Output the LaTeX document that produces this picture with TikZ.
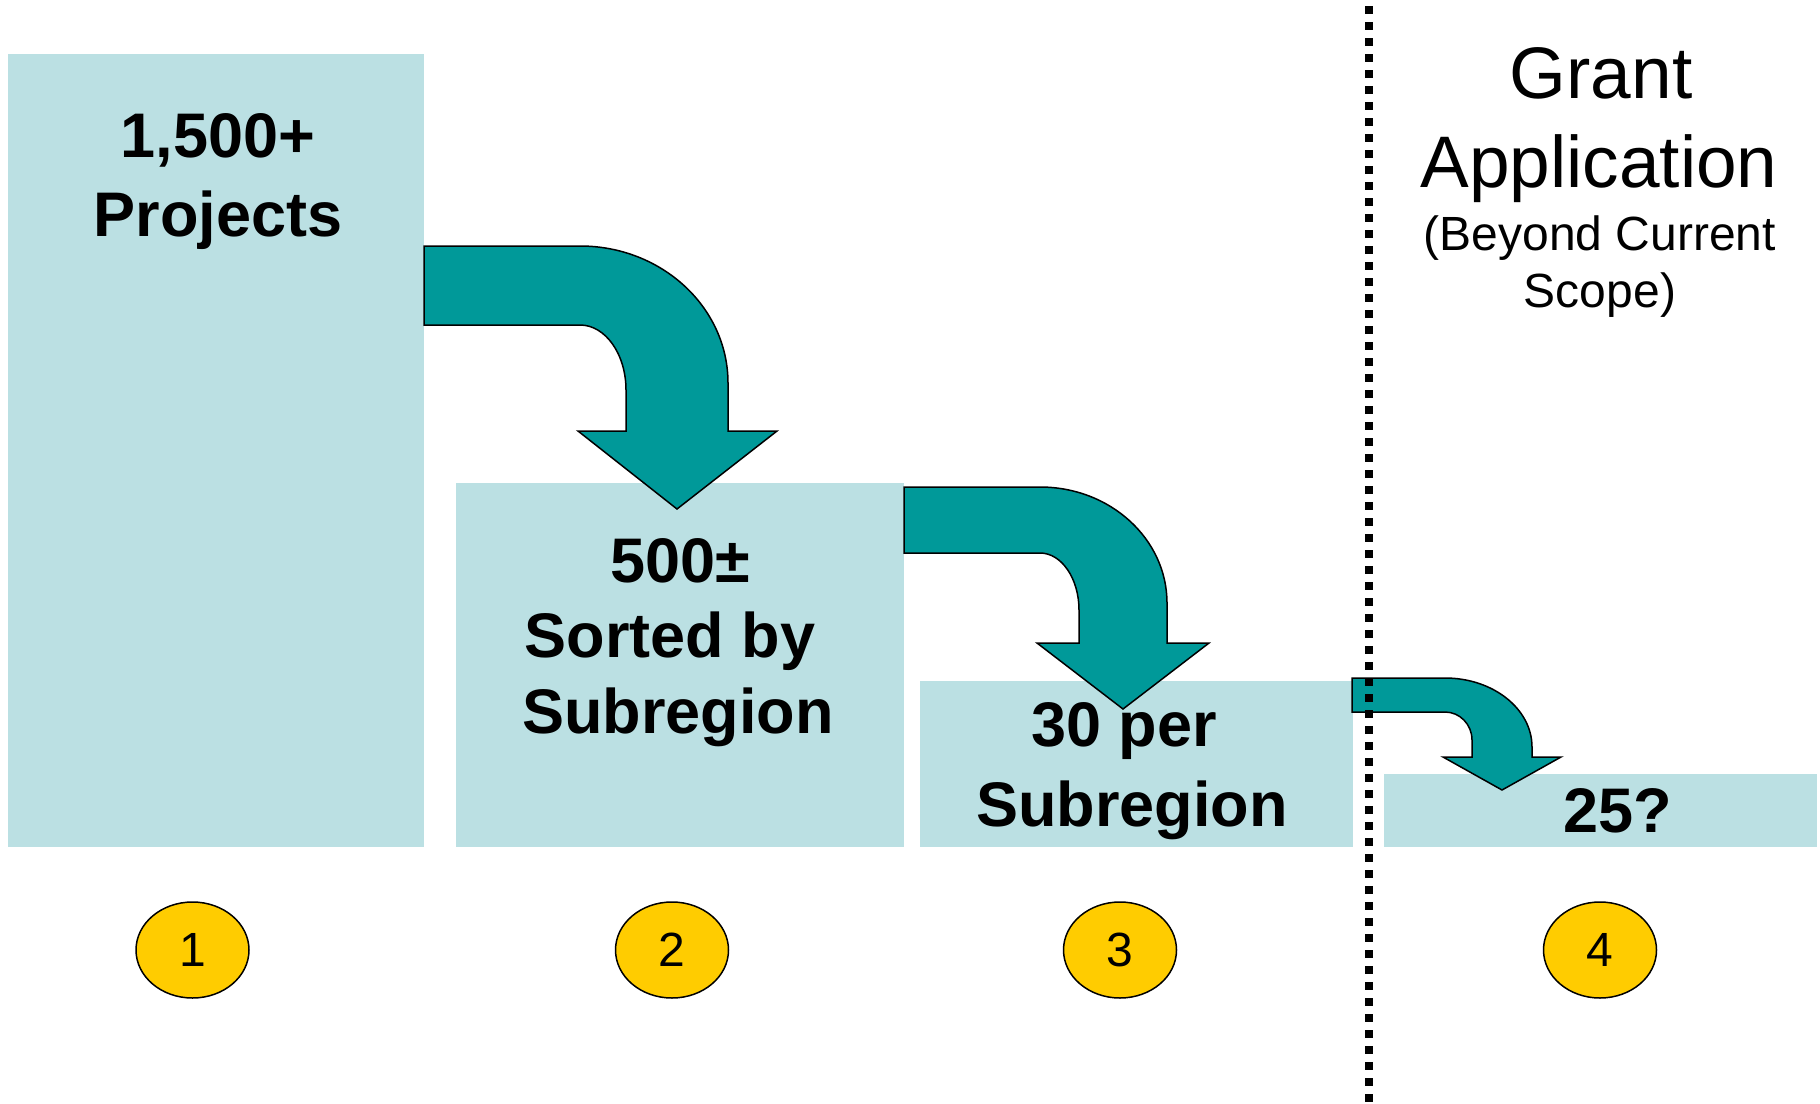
\documentclass[tikz,border=0pt]{standalone}
\usepackage{fontspec}
\setmainfont{Liberation Sans}
\usetikzlibrary{shapes.geometric}
\definecolor{boxfill}{HTML}{BBE0E3}
\definecolor{arrowfill}{HTML}{009999}
\definecolor{numfill}{HTML}{FFCC00}
\begin{document}
\begin{tikzpicture}[x=1pt,y=-1pt,
  stagebox/.style={fill=boxfill,draw=none},
  bentarrow/.style={fill=arrowfill,draw=black,line width=1.5pt,line join=miter},
  boxtext/.style={anchor=base,inner sep=0pt,font=\bfseries\fontsize{63}{76}\selectfont},
  numoval/.style={ellipse,fill=numfill,draw=black,line width=1.5pt,minimum width=113pt,minimum height=96pt,inner sep=0pt,font=\fontsize{48}{56}\selectfont},
  grantbig/.style={anchor=base,inner sep=0pt,font=\fontsize{73}{88}\selectfont},
  grantsmall/.style={anchor=base,inner sep=0pt,font=\fontsize{48}{58}\selectfont},
  divider/.style={line width=8pt,dash pattern=on 8pt off 8pt}
]
\useasboundingbox (0,0) rectangle (1820,1103);
% stage boxes
\fill[stagebox] (8,54) rectangle (424,847);
\fill[stagebox] (456,483) rectangle (904,847);
\fill[stagebox] (920,681) rectangle (1353,847);
\fill[stagebox] (1384,774) rectangle (1817,847);
% bent arrows
\draw[bentarrow] (424,246) -- (580,246)
  arc[start angle=-90,end angle=0,x radius=148,y radius=137]
  -- (728,431) -- (777,431) -- (677,509) -- (578,431) -- (626,431) -- (626,390)
  arc[start angle=0,end angle=-90,x radius=46,y radius=65]
  -- (424,325) -- cycle;
\draw[bentarrow] (904,487) -- (1040,487)
  arc[start angle=-90,end angle=0,x radius=127,y radius=116]
  -- (1167,643) -- (1209,643) -- (1123,709) -- (1037,643) -- (1079,643) -- (1079,610)
  arc[start angle=0,end angle=-90,x radius=39,y radius=57]
  -- (904,553) -- cycle;
\draw[bentarrow] (1352,678) -- (1445,678)
  arc[start angle=-90,end angle=0,x radius=87,y radius=69]
  -- (1532,757) -- (1561,757) -- (1502,790) -- (1443,757) -- (1472,757) -- (1472,740)
  arc[start angle=0,end angle=-90,x radius=27,y radius=28]
  -- (1352,712) -- cycle;
% box texts
\node[boxtext] (t1a) at (218,157) {1,500+};
\node[boxtext] (t1b) at (218,236) {Projects};
\node[boxtext] (t2a) at (680,582) {500±};
\node[boxtext] (t2b) at (670,657) {Sorted by};
\node[boxtext] (t2c) at (678,733) {Subregion};
\node[boxtext] (t3a) at (1124,746) {30 per};
\node[boxtext] (t3b) at (1132,826) {Subregion};
\node[boxtext] (t4a) at (1618,832) {25?};
% grant text
\node[grantbig] (g1) at (1601,98) {Grant};
\node[grantbig] (g2) at (1599,187) {Application};
\node[grantsmall] (g3) at (1600,250) {(Beyond Current};
\node[grantsmall] (g4) at (1600,307) {Scope)};
% numbered ovals
\node[numoval] (n1) at (192.5,950) {1};
\node[numoval] (n2) at (672,950) {2};
\node[numoval] (n3) at (1120,950) {3};
\node[numoval] (n4) at (1600,950) {4};
% dotted divider
\coordinate (dtop) at (1368.5,6);
\coordinate (dbot) at (1368.5,1103);
\draw[divider] (dtop) -- (dbot);
\end{tikzpicture}
\end{document}
